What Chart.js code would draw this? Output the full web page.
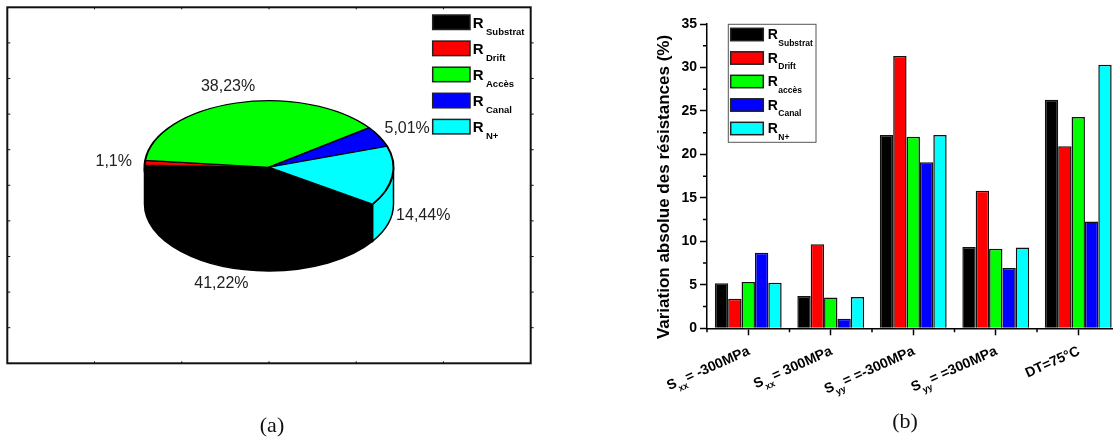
<!DOCTYPE html>
<html>
<head>
<meta charset="utf-8">
<script src="https://cdn.jsdelivr.net/npm/chart.js@4.4.1/dist/chart.umd.min.js"></script>
<style>
  html, body { margin: 0; padding: 0; background: #fff; overflow: hidden; }
  #page { position: relative; width: 1113px; height: 438px; overflow: hidden; }
  #pieChart { position: absolute; left: 0; top: 0; }
  #barChart { position: absolute; left: 560px; top: 0; }
  .caption { position: absolute; font-family: "Liberation Serif", serif; font-size: 22px; line-height: 22px; color: #111; transform: translate(-50%, -50%); }
</style>
</head>
<body>
<div id="page">
  <canvas id="pieChart" width="545" height="438"></canvas>
  <canvas id="barChart" width="575" height="438"></canvas>
  <div class="caption" style="left:272px; top:425px;">(a)</div>
  <div class="caption" style="left:905px; top:421px;">(b)</div>
</div>
<script>
// (a) parts of the total resistance, in %
const pieNames = ["Substrat", "Drift", "Accès", "Canal", "N+"];
const pieShares = [41.22, 1.1, 38.23, 5.01, 14.44];

// (b) variation of each resistance, in %
const barNames = ["Substrat", "Drift", "accès", "Canal", "N+"];
const categories = ["Sxx= -300MPa", "Sxx= 300MPa", "Syy= =-300MPa", "Syy= =300MPa", "DT=75°C"];
const categoryParts = [
  ["S", "xx", "= -300MPa"],
  ["S", "xx", "= 300MPa"],
  ["S", "yy", "= =-300MPa"],
  ["S", "yy", "= =300MPa"],
  ["DT=75°C", "", ""],
];
const rSubstrat = [5.17, 3.72, 22.23, 9.35, 26.29];
const rDrift = [3.41, 9.66, 31.31, 15.83, 20.93];
const rAcces = [5.33, 3.53, 22.04, 9.16, 24.3];
const rCanal = [8.7, 1.11, 19.09, 6.94, 12.27];
const rNplus = [5.25, 3.6, 22.23, 9.28, 30.32];
const yTicks = [0, 5, 10, 15, 20, 25, 30, 35];

const colors = ["#000000", "#ff0000", "#00ff00", "#0000ff", "#00ffff"];
const sansFont = '"Liberation Sans", Arial, sans-serif';

const squash = 0.535;
const depth = 37;

const pie3d = {
  id: "pie3d",
  beforeDraw(chart) {
    const ctx = chart.ctx;
    // frame around the pie
    const x0 = 7.3, y0 = 7.3, x1 = 530.7, y1 = 363.3;
    ctx.save();
    ctx.strokeStyle = "#111";
    ctx.lineWidth = 2;
    ctx.strokeRect(x0, y0, x1 - x0, y1 - y0);
    ctx.lineWidth = 1;
    ctx.beginPath();
    for (let i = 1; i < 10; i++) {
      const y = y0 + (i * (y1 - y0)) / 10;
      ctx.moveTo(x0, y); ctx.lineTo(x0 + 3, y);
      ctx.moveTo(x1, y); ctx.lineTo(x1 + 3, y);
    }
    for (let j = 1; j < 6; j++) {
      const x = x0 + (j * (x1 - x0)) / 6;
      ctx.moveTo(x, y0); ctx.lineTo(x, y0 + 2);
      ctx.moveTo(x, y1); ctx.lineTo(x, y1 - 2);
    }
    ctx.stroke();
    ctx.restore();
  },
  beforeDatasetsDraw(chart) {
    const ctx = chart.ctx;
    const arcs = chart.getDatasetMeta(0).data;
    const cx = arcs[0].x, cy = arcs[0].y, r = arcs[0].outerRadius;
    // side of the cylinder, only the front half shows
    ctx.save();
    ctx.lineWidth = 1.5;
    ctx.strokeStyle = "#000";
    arcs.forEach((arc, i) => {
      for (let w = -2; w <= 2; w++) {
        const lo = Math.max(arc.startAngle, w * 2 * Math.PI);
        const hi = Math.min(arc.endAngle, w * 2 * Math.PI + Math.PI);
        if (hi <= lo) continue;
        ctx.beginPath();
        ctx.ellipse(cx, cy, r, r * squash, 0, lo, hi, false);
        ctx.ellipse(cx, cy + depth, r, r * squash, 0, hi, lo, true);
        ctx.closePath();
        ctx.fillStyle = colors[i];
        ctx.fill();
        ctx.stroke();
      }
    });
    ctx.restore();
    // top face: squash the library's arcs into an ellipse
    ctx.save();
    ctx.translate(cx, cy);
    ctx.scale(1, squash);
    ctx.translate(-cx, -cy);
  },
  afterDatasetsDraw(chart) {
    const ctx = chart.ctx;
    ctx.restore();
    const arcs = chart.getDatasetMeta(0).data;
    ctx.save();
    ctx.font = "16px " + sansFont;
    ctx.fillStyle = "#222";
    ctx.textAlign = "center";
    ctx.textBaseline = "middle";
    arcs.forEach((arc, i) => {
      const mid = (arc.startAngle + arc.endAngle) / 2;
      const s = Math.sin(mid);
      const x = arc.x + 1.25 * arc.outerRadius * Math.cos(mid);
      const y = arc.y + 1.25 * arc.outerRadius * squash * s + (s > 0 ? depth : 0);
      ctx.fillText(String(pieShares[i]).replace(".", ",") + "%", x, y);
    });
    ctx.restore();
  },
  afterDraw(chart) {
    const ctx = chart.ctx;
    ctx.save();
    pieNames.forEach((name, i) => {
      const top = 15 + i * 26.1;
      ctx.fillStyle = colors[i];
      ctx.fillRect(432.7, top, 37.3, 14.5);
      ctx.strokeStyle = "#222";
      ctx.lineWidth = 1.5;
      ctx.strokeRect(432.7, top, 37.3, 14.5);
      ctx.fillStyle = "#000";
      ctx.font = "bold 15px " + sansFont;
      ctx.fillText("R", 472.7, top + 12.5);
      ctx.font = "bold 9.5px " + sansFont;
      ctx.fillText(name, 486, top + 19.5);
    });
    ctx.restore();
  },
};

new Chart(document.getElementById("pieChart"), {
  type: "pie",
  data: {
    labels: pieNames.map((n) => "R" + n),
    datasets: [{
      data: pieShares,
      backgroundColor: colors,
      borderColor: "#000",
      borderWidth: 2,
      hoverOffset: 0,
      clip: false,
    }],
  },
  options: {
    responsive: false,
    animation: false,
    events: [],
    rotation: 123.6,
    radius: 124.5,
    layout: { padding: { left: 0, right: 7, top: 0, bottom: 103.4 } },
    plugins: { legend: { display: false }, tooltip: { enabled: false } },
  },
  plugins: [pie3d],
});

const barDecor = {
  id: "barDecor",
  afterDraw(chart) {
    const ctx = chart.ctx;
    const xs = chart.scales.x, ys = chart.scales.y;
    const area = chart.chartArea;
    ctx.save();
    ctx.strokeStyle = "#000";
    ctx.lineWidth = 1.5;
    ctx.beginPath();
    // minor ticks
    for (let v = 2.5; v < 35; v += 5) {
      const y = ys.getPixelForValue(v);
      ctx.moveTo(area.left - 4, y); ctx.lineTo(area.left, y);
    }
    for (let i = 0; i <= categories.length; i++) {
      const x = xs.getPixelForValue(i - 0.5);
      ctx.moveTo(x, area.bottom); ctx.lineTo(x, area.bottom + 4);
    }
    ctx.stroke();

    // rotated category labels with subscripts
    ctx.fillStyle = "#000";
    categoryParts.forEach((parts, i) => {
      const px = xs.getPixelForValue(i);
      const big = "bold 14px " + sansFont;
      const small = "bold 9px " + sansFont;
      ctx.font = big;
      const w0 = ctx.measureText(parts[0]).width;
      const w2 = ctx.measureText(parts[2]).width;
      ctx.font = small;
      const w1 = ctx.measureText(parts[1]).width;
      const total = w0 + w1 + w2 + (parts[1] ? 1 : 0);
      ctx.save();
      ctx.translate(px - 2, 344);
      ctx.rotate((-24 * Math.PI) / 180);
      let x = -total;
      ctx.font = big;
      ctx.fillText(parts[0], x, 11);
      x += w0;
      ctx.font = small;
      ctx.fillText(parts[1], x, 16.5);
      x += w1 + (parts[1] ? 1 : 0);
      ctx.font = big;
      ctx.fillText(parts[2], x, 11);
      ctx.restore();
    });

    // y title
    ctx.save();
    ctx.translate(104, 187);
    ctx.rotate(-Math.PI / 2);
    ctx.font = "bold 17px " + sansFont;
    ctx.textAlign = "center";
    ctx.textBaseline = "middle";
    ctx.fillText("Variation absolue des résistances (%)", 0, 0);
    ctx.restore();

    // legend
    ctx.strokeStyle = "#555";
    ctx.lineWidth = 1;
    ctx.fillStyle = "#fff";
    ctx.fillRect(168.3, 24.3, 87.7, 118);
    ctx.strokeRect(168.3, 24.3, 87.7, 118);
    chart.data.datasets.forEach((ds, i) => {
      const top = 28.3 + i * 23.5;
      ctx.fillStyle = ds.backgroundColor;
      ctx.fillRect(170.7, top, 32.6, 12.4);
      ctx.strokeStyle = "#222";
      ctx.lineWidth = 1.5;
      ctx.strokeRect(170.7, top, 32.6, 12.4);
      ctx.fillStyle = "#000";
      ctx.font = "bold 14px " + sansFont;
      ctx.fillText("R", 207.7, top + 11);
      ctx.font = "bold 8.5px " + sansFont;
      ctx.fillText(barNames[i], 218.3, top + 17.4);
    });
    ctx.restore();
  },
};

new Chart(document.getElementById("barChart"), {
  type: "bar",
  data: {
    labels: categories,
    datasets: [rSubstrat, rDrift, rAcces, rCanal, rNplus].map((vals, i) => ({
      label: "R" + barNames[i],
      data: vals,
      backgroundColor: colors[i],
      borderColor: "#111",
      borderWidth: 1.5,
      categoryPercentage: 0.81,
      barPercentage: 1.0,
    })),
  },
  options: {
    responsive: false,
    animation: false,
    events: [],
    layout: { padding: { left: 0, right: 15.5, top: 24, bottom: 109.7 } },
    plugins: { legend: { display: false }, tooltip: { enabled: false } },
    scales: {
      x: {
        grid: { drawOnChartArea: false, offset: false, tickLength: 7, tickColor: "#000", tickWidth: 1.5 },
        border: { color: "#000", width: 1.5 },
        ticks: { display: false },
        afterFit(scale) { scale.height = 0; },
      },
      y: {
        min: yTicks[0],
        max: yTicks[yTicks.length - 1],
        afterBuildTicks(scale) { scale.ticks = yTicks.map((v) => ({ value: v })); },
        ticks: { color: "#000", padding: 3, font: { family: sansFont, size: 14, weight: "bold" } },
        grid: { drawOnChartArea: false, tickLength: 7, tickColor: "#000", tickWidth: 1.5 },
        border: { color: "#000", width: 1.5 },
        afterFit(scale) { scale.width = 147; },
      },
    },
  },
  plugins: [barDecor],
});
</script>
</body>
</html>
